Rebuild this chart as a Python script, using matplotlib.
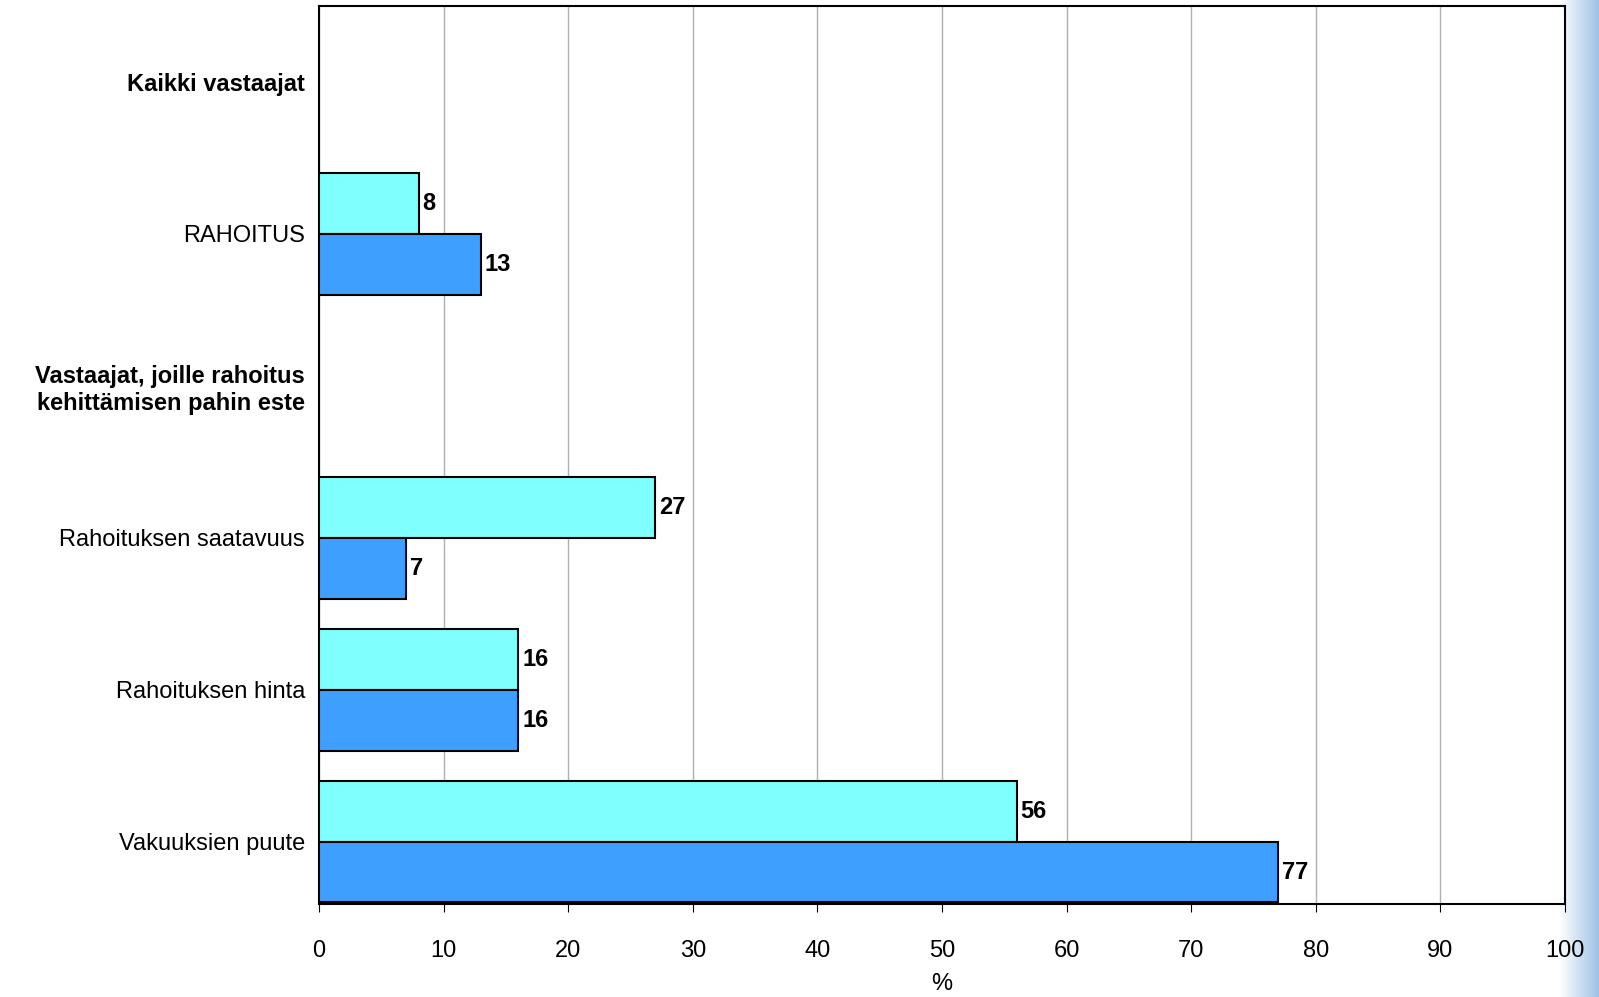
import matplotlib
matplotlib.use("Agg")
import matplotlib.pyplot as plt
import numpy as np

categories = ["Kaikki vastaajat", "RAHOITUS", "Vastaajat, joille rahoitus\nkehittämisen pahin este",
              "Rahoituksen saatavuus", "Rahoituksen hinta", "Vakuuksien puute"]
bold = [True, False, True, False, False, False]
series_a = [None, 8, None, 27, 16, 56]   # cyan
series_b = [None, 13, None, 7, 16, 77]   # blue
xticks = list(range(0, 101, 10))

plt.rcParams['font.family'] = ['Liberation Sans', 'DejaVu Sans']
fig = plt.figure(figsize=(15.99, 9.97), dpi=100)
bg = fig.add_axes([0.975, 0, 0.025, 1], zorder=-5)
grad = np.linspace(0, 1, 100)[None, :]
bg.imshow(grad, aspect='auto', cmap=matplotlib.colors.LinearSegmentedColormap.from_list('g', ['#ffffff', '#9ec3e6']), extent=[0, 1, 0, 1])
bg.axis('off')

L, R, T, B = 319, 1565, 6, 904
ax = fig.add_axes([L/1599, 1-B/997, (R-L)/1599, (B-T)/997])
h = 0.4
fs = 17
for i, (a, b) in enumerate(zip(series_a, series_b)):
    if a is not None:
        ax.barh(i - h/2, a, height=h, color='#80ffff', edgecolor='black', linewidth=1.5, zorder=3)
        ax.text(a + 0.3, i - h/2, f"{a}", va='center', ha='left', fontsize=fs, fontweight='bold', zorder=4)
    if b is not None:
        ax.barh(i + h/2, b, height=h, color='#3f9fff', edgecolor='black', linewidth=1.5, zorder=3)
        ax.text(b + 0.3, i + h/2, f"{b}", va='center', ha='left', fontsize=fs, fontweight='bold', zorder=4)

ax.set_xlim(0, 100)
ax.set_ylim(5.41, -0.5)
ax.set_xticks(xticks)
ax.set_xticklabels([str(x) for x in xticks], fontsize=fs)
ax.set_yticks(range(len(categories)))
ax.set_yticklabels(categories, fontsize=fs)
for lab, b in zip(ax.get_yticklabels(), bold):
    if b:
        lab.set_fontweight('bold')
ax.tick_params(axis='y', length=0, pad=10)
ax.tick_params(axis='x', length=6, direction='out', pad=20)
ax.xaxis.grid(True, color='#b0b0b0', linewidth=1, zorder=0)
ax.set_axisbelow(True)
for s in ax.spines.values():
    s.set_linewidth(1.5)
ax.set_xlabel('%', fontsize=fs, labelpad=8)
fig.savefig('out.png', dpi=100)
